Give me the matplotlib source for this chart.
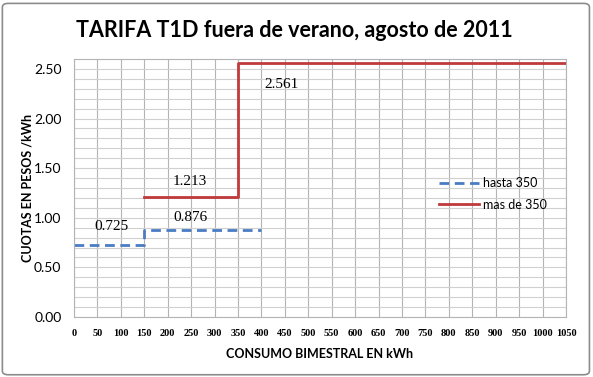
import numpy as np
import matplotlib.pyplot as plt
from matplotlib.patches import FancyBboxPatch

# datos de la tarifa
x_hasta = [0, 150, 150, 400]
y_hasta = [0.725, 0.725, 0.876, 0.876]
x_mas = [150, 350, 350, 1050]
y_mas = [1.213, 1.213, 2.561, 2.561]

etiquetas = ['0.725', '0.876', '1.213', '2.561']
etiq_x = [79, 248, 248, 443]
etiq_y = [0.915, 1.005, 1.365, 2.34]

x_ticks = list(range(0, 1051, 50))
y_ticks = [0.0, 0.5, 1.0, 1.5, 2.0, 2.5]

sans = ['Lato', 'DejaVu Sans']
serif = ['Liberation Serif', 'DejaVu Serif']

fig = plt.figure(figsize=(5.93, 3.77), dpi=100)
borde = FancyBboxPatch((0.004, 0.006), 0.99, 0.985, boxstyle='round,pad=0,rounding_size=0.01',
                       transform=fig.transFigure, facecolor='white', edgecolor='#8c8c8c',
                       linewidth=1.2, zorder=-1)
fig.patches.append(borde)

ax = fig.add_axes([74 / 593, 1 - 317 / 377, (566 - 74) / 593, (317 - 59) / 377])
ax.set_zorder(2)
ax.patch.set_alpha(0)
ax.set_xlim(0, 1050)
ax.set_ylim(0, 2.6)

# rejilla
for v in x_ticks:
    ax.axvline(v, color='#b4b4b4', linewidth=0.8, zorder=0)
for h in np.arange(0, 2.61, 0.1):
    ax.axhline(h, color='#d0d0d0', linewidth=0.8, zorder=0)

ax.plot(x_hasta, y_hasta, color='#4a7cc4', linestyle=(0, (3.5, 2)), linewidth=2, label='hasta 350')
ax.plot(x_mas, y_mas, color='#c0393b', linewidth=2, label='mas de 350')

for t, xx, yy in zip(etiquetas, etiq_x, etiq_y):
    ax.text(xx, yy, t, ha='center', va='center', fontsize=11, family=serif)

ax.set_xticks(x_ticks)
ax.set_xticklabels([str(v) for v in x_ticks], family=serif, fontweight='bold', fontsize=7.5)
ax.set_yticks(y_ticks)
ax.set_yticklabels(['%.2f' % v for v in y_ticks], family=sans, fontsize=10)
ax.tick_params(axis='x', length=0, pad=9)
ax.tick_params(axis='y', length=0, pad=9)
for s in ax.spines.values():
    s.set_color('#b4b4b4')
    s.set_linewidth(0.8)

ax.set_xlabel('CONSUMO BIMESTRAL EN kWh', family=sans, fontweight='bold', fontsize=9, labelpad=7)
ax.set_ylabel('CUOTAS EN PESOS /kWh', family=sans, fontweight='bold', fontsize=9)
ax.yaxis.set_label_coords(-0.083, 0.5)

leg = ax.legend(loc='upper left', bbox_to_anchor=(0.72, 0.585), frameon=False,
                prop={'family': sans, 'size': 9}, handlelength=3.2, handletextpad=0.3,
                labelspacing=0.75)

fig.text(0.497, 0.92, 'TARIFA T1D fuera de verano, agosto de 2011', ha='center', va='center',
         family=sans, fontweight='bold', fontsize=15.5)

plt.savefig('out.png', dpi=100)
